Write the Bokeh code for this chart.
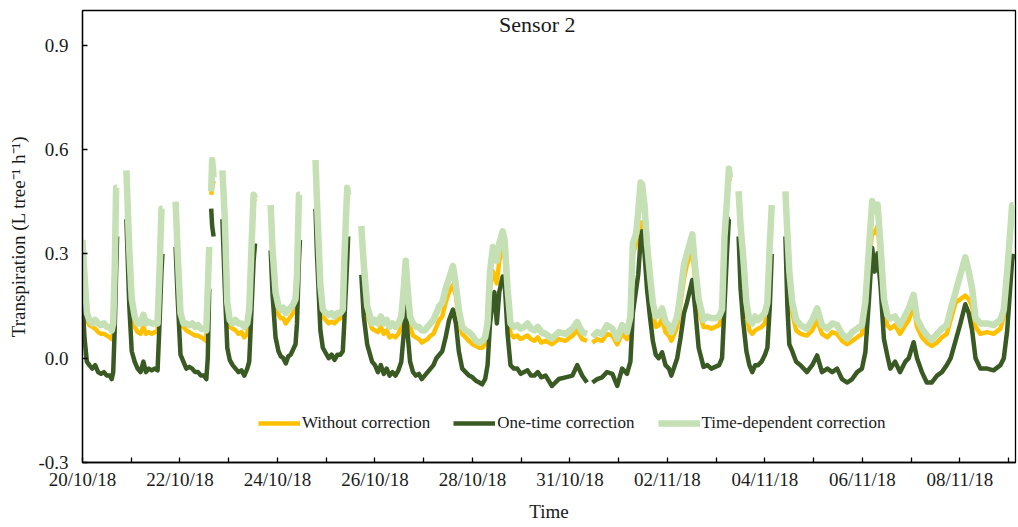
import numpy as np
from bokeh.plotting import figure
from bokeh.models import Range1d, FixedTicker, Label, Legend, LegendItem, PrintfTickFormatter
from bokeh.embed import file_html
from bokeh.resources import INLINE

nan = float("nan")

# time in "day" units of the category axis (one major tick per day)
time_days = [
    0.00, 0.04, 0.09, 0.14, 0.20, 0.26, 0.32, 0.38, 0.44, 0.50, 0.56, 0.60, 0.63, 0.66, 0.69, 0.71, 0.76,
    0.90, 0.96, 1.01, 1.07, 1.13, 1.19, 1.25, 1.30, 1.36, 1.42, 1.48, 1.54, 1.58, 1.62, 1.64, 1.70,
    1.91, 1.95, 2.01, 2.07, 2.13, 2.19, 2.25, 2.31, 2.37, 2.43, 2.49, 2.54, 2.57, 2.60, 2.62, 2.64, 2.66, 2.69, 2.75,
    2.87, 2.92, 2.97, 3.02, 3.08, 3.14, 3.20, 3.26, 3.32, 3.38, 3.42, 3.47, 3.51, 3.54, 3.60,
    3.86, 3.90, 3.96, 4.02, 4.07, 4.12, 4.17, 4.22, 4.27, 4.32, 4.37, 4.40, 4.44, 4.46, 4.52,
    4.78, 4.81, 4.88, 4.93, 4.99, 5.05, 5.11, 5.17, 5.23, 5.29, 5.34, 5.37, 5.43, 5.45, 5.50,
    5.72, 5.77, 5.84, 5.94,
    6.00, 6.06, 6.12, 6.18, 6.24, 6.30, 6.36, 6.42, 6.48, 6.54,
    6.59, 6.63, 6.67, 6.72, 6.78, 6.84, 6.90, 6.96,
    7.02, 7.08, 7.14, 7.20, 7.26, 7.32, 7.38, 7.45, 7.52, 7.60,
    7.66, 7.72, 7.79, 7.86, 7.93,
    8.00, 8.07, 8.14, 8.20, 8.26, 8.31, 8.36, 8.42, 8.45, 8.50,
    8.55, 8.62, 8.66, 8.72, 8.78, 8.85, 8.92, 8.99, 9.06, 9.13,
    9.20, 9.27, 9.34, 9.41,
    9.50, 9.63, 9.77, 9.91, 10.05, 10.15, 10.25, 10.35, 10.41, 10.46,
    10.56, 10.66, 10.76, 10.87, 10.97, 11.07, 11.17,
    11.24, 11.29, 11.36, 11.40, 11.45, 11.48, 11.53, 11.58, 11.64, 11.70,
    11.76, 11.82, 11.89, 11.96, 12.03, 12.08,
    12.20, 12.27, 12.34, 12.40, 12.51, 12.57, 12.64, 12.74, 12.82, 12.90,
    12.98, 13.06, 13.12, 13.17, 13.22, 13.26, 13.28, 13.35,
    13.46, 13.50, 13.55, 13.62, 13.68, 13.74, 13.80, 13.86, 13.93, 14.00,
    14.05, 14.10, 14.14, 14.20,
    14.42, 14.46, 14.50, 14.56, 14.64, 14.73, 14.86, 14.97, 15.07, 15.17,
    15.28, 15.38, 15.48, 15.58, 15.69, 15.79, 15.89, 15.99,
    16.06, 16.13, 16.20, 16.25, 16.31, 16.37, 16.44, 16.51, 16.57, 16.67,
    16.77, 16.88, 16.95, 17.05, 17.12, 17.22, 17.32, 17.42, 17.53, 17.63,
    17.73,
    17.81, 17.91, 18.01, 18.11, 18.18, 18.25, 18.32, 18.42, 18.56, 18.69,
    18.83, 18.90, 18.97, 19.04, 19.07, 19.10,
]

time_dependent_correction = [
    0.34, 0.24, 0.13, 0.11, 0.10, 0.11, 0.10, 0.095, 0.10, 0.09, 0.09, 0.08, 0.10, 0.25, 0.49, 0.49, nan,
    0.54, 0.31, 0.17, 0.12, 0.10, 0.10, 0.125, 0.10, 0.105, 0.10, 0.10, 0.10, 0.25, 0.43, 0.43, nan,
    0.45, 0.31, 0.13, 0.10, 0.10, 0.095, 0.10, 0.09, 0.095, 0.085, 0.085, 0.08, 0.20, 0.32, nan, 0.48, 0.57, 0.52, nan,
    0.54, 0.40, 0.16, 0.11, 0.10, 0.11, 0.10, 0.10, 0.09, 0.10, 0.14, 0.33, 0.47, 0.46, nan,
    0.44, 0.31, 0.19, 0.15, 0.14, 0.145, 0.13, 0.14, 0.145, 0.155, 0.17, 0.24, 0.47, 0.47, nan,
    0.57, 0.45, 0.21, 0.14, 0.13, 0.125, 0.13, 0.12, 0.13, 0.13, 0.14, 0.28, 0.49, 0.47, nan,
    0.38, 0.27, 0.15, 0.10,
    0.11, 0.10, 0.12, 0.10, 0.11, 0.09, 0.10, 0.09, 0.10, 0.12,
    0.20, 0.28, 0.20, 0.12, 0.10, 0.09, 0.09, 0.08,
    0.08, 0.09, 0.10, 0.11, 0.13, 0.15, 0.16, 0.20, 0.23, 0.265,
    0.21, 0.14, 0.09, 0.08, 0.075,
    0.065, 0.05, 0.045, 0.05, 0.06, 0.10, 0.25, 0.32, 0.31, 0.28,
    0.33, 0.365, 0.34, 0.20, 0.10, 0.09, 0.095, 0.085, 0.09, 0.10,
    0.085, 0.08, 0.09, 0.075,
    0.07, 0.056, 0.075, 0.07, 0.085, 0.104, 0.075, 0.07, nan, 0.061,
    0.075, 0.07, 0.095, 0.085, 0.056, 0.095, 0.075,
    0.12, 0.33, 0.36, 0.42, 0.505, 0.50, 0.44, 0.33, 0.24, 0.16,
    0.12, 0.124, 0.143, 0.104, 0.095, 0.075,
    0.12, 0.19, 0.27, 0.30, 0.356, 0.26, 0.17, 0.11, 0.12, 0.115,
    0.115, 0.12, 0.14, 0.35, 0.45, 0.545, 0.52, nan,
    0.48, 0.38, 0.30, 0.16, 0.11, 0.10, 0.12, 0.11, 0.12, 0.13,
    0.16, 0.33, 0.44, nan,
    0.48, 0.36, 0.25, 0.16, 0.11, 0.095, 0.085, 0.11, 0.143, 0.095,
    0.085, 0.10, 0.095, 0.07, 0.056, 0.075, 0.085, 0.095,
    0.162, 0.307, 0.452, 0.423, 0.442, 0.327, 0.172, 0.124, 0.114, 0.12,
    0.095, 0.124, 0.143, 0.182, 0.114, 0.085, 0.066, 0.052, 0.07, 0.085,
    0.095,
    0.14, 0.19, 0.24, 0.29, 0.25, 0.20, 0.115, 0.10, 0.10, 0.095,
    0.11, 0.14, 0.25, 0.38, 0.44, 0.44,
]

without_correction = [
    0.33, 0.22, 0.11, 0.095, 0.09, 0.085, 0.075, 0.07, 0.07, 0.065, 0.06, 0.055, 0.07, 0.24, 0.48, 0.48, nan,
    0.53, 0.30, 0.15, 0.09, 0.075, 0.07, 0.09, 0.07, 0.075, 0.07, 0.075, 0.075, 0.24, 0.42, 0.42, nan,
    0.44, 0.29, 0.11, 0.09, 0.08, 0.075, 0.07, 0.065, 0.065, 0.06, 0.055, 0.05, 0.19, 0.31, nan, 0.47, 0.49, 0.51, nan,
    0.53, 0.39, 0.14, 0.09, 0.085, 0.08, 0.07, 0.075, 0.06, 0.07, 0.12, 0.32, 0.46, 0.45, nan,
    0.43, 0.30, 0.17, 0.125, 0.115, 0.115, 0.10, 0.11, 0.12, 0.13, 0.14, 0.23, 0.46, 0.46, nan,
    0.56, 0.44, 0.19, 0.12, 0.11, 0.10, 0.105, 0.10, 0.11, 0.115, 0.12, 0.27, 0.48, 0.46, nan,
    0.37, 0.26, 0.13, 0.085,
    0.08, 0.075, 0.09, 0.07, 0.08, 0.06, 0.065, 0.06, 0.07, 0.09,
    0.17, 0.23, 0.16, 0.09, 0.065, 0.06, 0.055, 0.045,
    0.05, 0.055, 0.065, 0.07, 0.09, 0.11, 0.12, 0.16, 0.19, 0.21,
    0.18, 0.11, 0.07, 0.06, 0.05,
    0.04, 0.035, 0.03, 0.03, 0.04, 0.08, 0.20, 0.25, 0.24, 0.215,
    0.28, 0.32, 0.30, 0.16, 0.07, 0.06, 0.065, 0.055, 0.06, 0.065,
    0.055, 0.05, 0.06, 0.045,
    0.05, 0.04, 0.055, 0.05, 0.065, 0.08, 0.055, 0.05, nan, 0.045,
    0.055, 0.05, 0.07, 0.065, 0.04, 0.07, 0.055,
    0.10, 0.30, 0.33, 0.36, 0.39, 0.39, 0.36, 0.30, 0.21, 0.13,
    0.09, 0.094, 0.113, 0.075, 0.065, 0.05,
    0.09, 0.16, 0.23, 0.27, 0.31, 0.22, 0.14, 0.09, 0.09, 0.085,
    0.09, 0.095, 0.12, 0.34, 0.44, 0.53, 0.51, nan,
    0.47, 0.36, 0.28, 0.13, 0.08, 0.07, 0.08, 0.085, 0.09, 0.10,
    0.14, 0.32, 0.43, nan,
    0.47, 0.34, 0.22, 0.13, 0.08, 0.07, 0.065, 0.08, 0.11, 0.07,
    0.06, 0.075, 0.07, 0.05, 0.04, 0.05, 0.06, 0.07,
    0.13, 0.27, 0.365, 0.36, 0.38, 0.29, 0.14, 0.095, 0.085, 0.095,
    0.07, 0.095, 0.11, 0.15, 0.09, 0.06, 0.045, 0.035, 0.045, 0.06,
    0.07,
    0.11, 0.16, 0.17, 0.18, 0.17, 0.15, 0.09, 0.07, 0.075, 0.07,
    0.085, 0.12, 0.24, 0.37, 0.43, 0.43,
]

one_time_correction = [
    0.17, 0.06, -0.01, -0.02, -0.03, -0.02, -0.04, -0.045, -0.04, -0.05, -0.05, -0.06, -0.04, 0.08, 0.25, 0.35, nan,
    0.40, 0.15, 0.02, -0.01, -0.03, -0.04, -0.01, -0.04, -0.03, -0.035, -0.03, -0.035, 0.10, 0.25, 0.30, nan,
    0.32, 0.18, 0.01, -0.01, -0.03, -0.025, -0.03, -0.04, -0.04, -0.05, -0.05, -0.06, 0.00, 0.20, nan, 0.43, 0.38, 0.35, nan,
    0.40, 0.20, 0.03, -0.005, -0.02, -0.03, -0.04, -0.035, -0.05, -0.03, -0.01, 0.15, 0.28, 0.33, nan,
    0.31, 0.18, 0.06, 0.02, 0.005, 0.0, -0.015, 0.005, 0.01, 0.025, 0.04, 0.10, 0.28, 0.34, nan,
    0.43, 0.30, 0.08, 0.03, 0.015, 0.0, 0.01, -0.005, 0.01, 0.01, 0.02, 0.10, 0.28, 0.35, nan,
    0.24, 0.12, 0.04, -0.01,
    -0.02, -0.04, -0.02, -0.045, -0.03, -0.05, -0.04, -0.05, -0.035, -0.01,
    0.07, 0.15, 0.07, -0.01, -0.04, -0.05, -0.045, -0.06,
    -0.05, -0.04, -0.03, -0.02, 0.00, 0.01, 0.02, 0.06, 0.11, 0.14,
    0.10, 0.02, -0.03, -0.04, -0.05,
    -0.055, -0.065, -0.07, -0.075, -0.06, -0.02, 0.10, 0.17, 0.19, 0.10,
    0.19, 0.235, 0.22, 0.07, -0.02, -0.03, -0.03, -0.045, -0.04, -0.035,
    -0.05, -0.05, -0.04, -0.055,
    -0.05, -0.08, -0.06, -0.055, -0.05, -0.02, -0.05, -0.07, nan, -0.07,
    -0.06, -0.055, -0.04, -0.045, -0.08, -0.03, -0.045,
    -0.01, 0.13, 0.20, 0.24, 0.34, 0.365, 0.30, 0.20, 0.12, 0.05,
    0.01, 0.0, 0.017, -0.02, -0.03, -0.05,
    0.0, 0.06, 0.13, 0.16, 0.225, 0.14, 0.03, -0.025, -0.02, -0.03,
    -0.025, -0.02, 0.0, 0.15, 0.30, 0.40, 0.40, nan,
    0.35, 0.20, 0.11, 0.02, -0.02, -0.04, -0.02, -0.02, -0.01, 0.01,
    0.03, 0.15, 0.30, nan,
    0.35, 0.15, 0.04, 0.02, -0.01, -0.02, -0.04, -0.02, 0.008, -0.04,
    -0.03, -0.04, -0.03, -0.06, -0.07, -0.06, -0.04, -0.03,
    0.017, 0.16, 0.317, 0.249, 0.302, 0.21, 0.056, 0.008, -0.03, -0.01,
    -0.04, -0.01, 0.0, 0.046, 0.0, -0.04, -0.07, -0.07, -0.05, -0.04,
    -0.02,
    0.0, 0.05, 0.10, 0.155, 0.13, 0.08, 0.0, -0.03, -0.03, -0.035,
    -0.02, 0.0, 0.08, 0.22, 0.28, 0.30,
]

tick_labels = ["20/10/18", "22/10/18", "24/10/18", "26/10/18", "28/10/18",
               "31/10/18", "02/11/18", "04/11/18", "06/11/18", "08/11/18"]
y_ticks = [-0.3, 0.0, 0.3, 0.6, 0.9]

FONT = "Liberation Serif"
TXT = "#1a1a1a"

p = figure(width=1018, height=527, output_backend="svg", toolbar_location=None,
           x_range=Range1d(0, 19.14), y_range=Range1d(-0.3, 1.0),
           min_border_left=82, min_border_right=3, min_border_top=10, min_border_bottom=65,
           background_fill_color="white", border_fill_color="white")
p.xgrid.visible = False
p.ygrid.visible = False
p.outline_line_color = "black"
p.outline_line_width = 1.3
p.outline_line_alpha = 1

t = np.array(time_days, dtype=float)
r1 = p.line(t, np.array(without_correction, dtype=float), line_color="#FFC000", line_width=4.5, line_join="round")
r2 = p.line(t, np.array(one_time_correction, dtype=float), line_color="#3A5A24", line_width=4.5, line_join="round")
r3 = p.line(t, np.array(time_dependent_correction, dtype=float), line_color="#C5E0B4", line_width=6.5, line_join="round")

# x axis
n_ticks = 20
overrides = {}
for i in range(n_ticks):
    overrides[i] = tick_labels[i // 2] if i % 2 == 0 else ""
p.xaxis.ticker = FixedTicker(ticks=list(range(n_ticks)))
p.xaxis.major_label_overrides = overrides
p.xaxis.axis_label = "Time"
p.yaxis.ticker = FixedTicker(ticks=y_ticks)
p.yaxis.formatter = PrintfTickFormatter(format="%.1f")
p.yaxis.axis_label = "Transpiration (L tree\u207b\u00b9 h\u207b\u00b9)"

for ax in (p.xaxis[0], p.yaxis[0]):
    ax.axis_line_color = "black"
    ax.axis_line_width = 1.3
    ax.major_tick_line_color = "black"
    ax.major_tick_line_width = 1.3
    ax.major_tick_in = 5
    ax.major_tick_out = 0
    ax.minor_tick_line_color = None
    ax.major_label_text_font = FONT
    ax.major_label_text_font_size = "19px"
    ax.major_label_text_color = TXT
    ax.axis_label_text_font = FONT
    ax.axis_label_text_font_size = "19px"
    ax.axis_label_text_font_style = "normal"
    ax.axis_label_text_color = TXT

p.xaxis.major_label_standoff = 6
p.xaxis.axis_label_standoff = 8
p.yaxis.major_label_standoff = 14
p.yaxis.axis_label_standoff = 6

legend = Legend(items=[LegendItem(label="Without correction", renderers=[r1]),
                       LegendItem(label="One-time correction", renderers=[r2]),
                       LegendItem(label="Time-dependent correction", renderers=[r3])],
                orientation="horizontal", location=(176, 29),
                border_line_alpha=0, background_fill_alpha=0,
                label_text_font=FONT, label_text_font_size="17px", label_text_color=TXT,
                glyph_width=42, glyph_height=20, label_standoff=2, spacing=23,
                padding=0, margin=0)
p.add_layout(legend)

title = Label(x=9.33, y=0.96, text="Sensor 2", text_align="center", text_baseline="middle",
              text_font=FONT, text_font_size="22px", text_color=TXT)
p.add_layout(title)

open("out.html", "w").write(file_html(p, INLINE))
